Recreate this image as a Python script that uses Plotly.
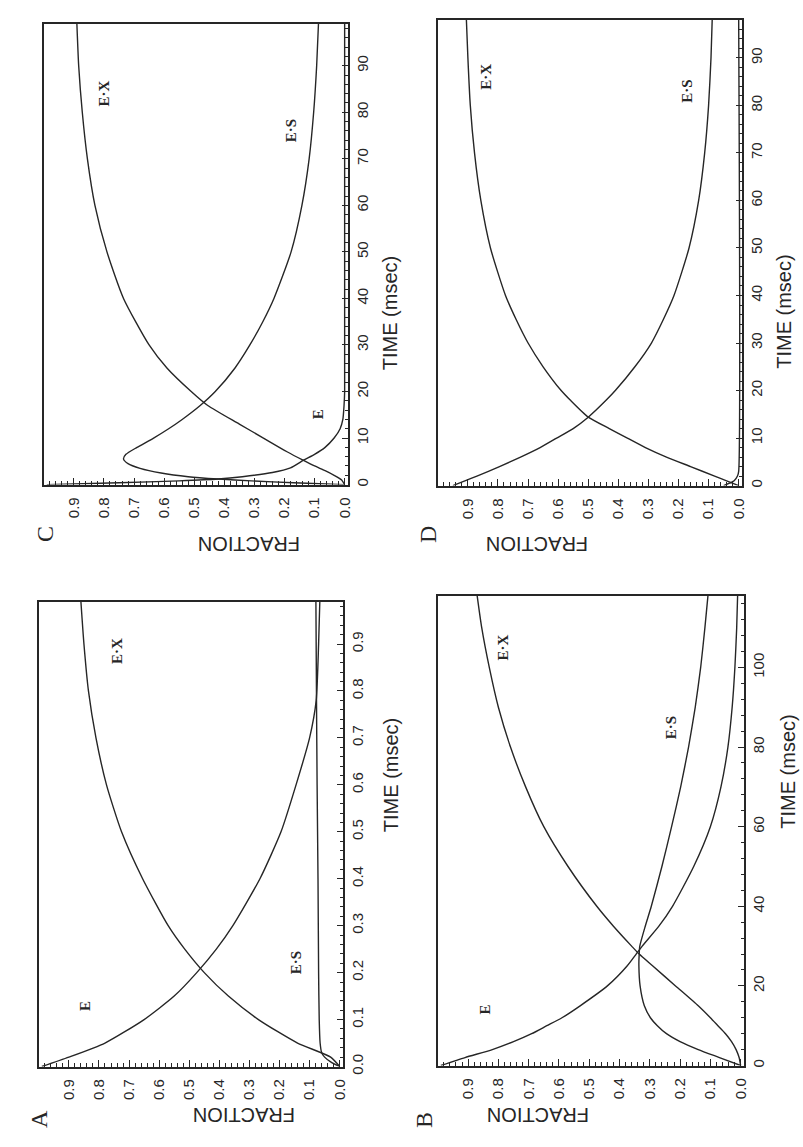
import plotly.graph_objects as go

W, H = 803, 1147

# ---- Panel A (time in msec, 0 - 1) ----
A_t_E = [0, 0.02, 0.05, 0.1, 0.15, 0.2, 0.25, 0.3, 0.4, 0.5, 0.6, 0.7, 0.78, 0.9, 0.99]
A_E = [0.99, 0.90, 0.78, 0.65, 0.55, 0.475, 0.41, 0.355, 0.265, 0.195, 0.145, 0.10, 0.078, 0.07, 0.066]
A_t_EX = [0, 0.02, 0.05, 0.1, 0.15, 0.2, 0.25, 0.3, 0.4, 0.5, 0.6, 0.7, 0.8, 0.9, 0.99]
A_EX = [0, 0.03, 0.14, 0.27, 0.37, 0.45, 0.515, 0.57, 0.655, 0.725, 0.775, 0.81, 0.835, 0.85, 0.86]
A_t_ES = [0, 0.01, 0.02, 0.03, 0.05, 0.1, 0.2, 0.4, 0.6, 0.78, 0.99]
A_ES = [0, 0.03, 0.05, 0.06, 0.065, 0.068, 0.07, 0.072, 0.075, 0.077, 0.079]

# ---- Panel B (time 0 - 118 msec) ----
B_t = [0, 2, 4, 6, 8, 10, 12, 15, 20, 25, 28, 30, 35, 40, 50, 60, 70, 80, 90, 100, 110, 118]
B_E = [0.99, 0.91, 0.82, 0.75, 0.69, 0.64, 0.59, 0.53, 0.44, 0.375, 0.345, 0.325, 0.27, 0.225,
       0.155, 0.10, 0.065, 0.042, 0.028, 0.019, 0.013, 0.01]
B_ES = [0, 0.07, 0.14, 0.2, 0.245, 0.275, 0.298, 0.318, 0.332, 0.336, 0.335, 0.333, 0.315, 0.295,
        0.26, 0.228, 0.198, 0.172, 0.15, 0.132, 0.118, 0.108]
B_EX = [0, 0.005, 0.015, 0.03, 0.05, 0.075, 0.1, 0.14, 0.215, 0.29, 0.335, 0.36, 0.42, 0.475,
        0.57, 0.65, 0.71, 0.76, 0.8, 0.83, 0.855, 0.87]

# ---- Panel C (time 0 - 99 msec) ----
C_t_E = [0, 0.4, 0.8, 1.2, 1.7, 2.6, 3.6, 5.3, 6.5, 8, 10, 12, 14, 17, 20, 99]
C_E = [0.99, 0.75, 0.55, 0.42, 0.34, 0.24, 0.18, 0.135, 0.1, 0.065, 0.035, 0.015, 0.006, 0.002, 0, 0]
C_t_ES = [0, 0.4, 0.8, 1.2, 1.7, 2.5, 3.5, 4.5, 5.5, 6.5, 8, 10, 12, 14, 17, 20, 25, 30, 35, 40,
          50, 60, 70, 80, 90, 99]
C_ES = [0, 0.17, 0.31, 0.42, 0.52, 0.61, 0.68, 0.72, 0.735, 0.727, 0.69, 0.635, 0.585, 0.54,
        0.48, 0.43, 0.365, 0.315, 0.272, 0.235, 0.178, 0.142, 0.118, 0.103, 0.093, 0.087]
C_t_EX = [0, 1, 2, 3, 4, 5.3, 7, 10, 13, 17, 20, 25, 30, 40, 50, 60, 70, 80, 90, 99]
C_EX = [0, 0.01, 0.035, 0.065, 0.1, 0.14, 0.19, 0.27, 0.35, 0.455, 0.51, 0.59, 0.65, 0.735, 0.79,
        0.83, 0.855, 0.872, 0.884, 0.89]

# ---- Panel D (time 0 - 98 msec) ----
D_t = [0, 1, 2, 4, 6, 8, 10, 12, 14.4, 18, 20, 25, 30, 35, 40, 50, 60, 70, 80, 90, 98]
D_ES = [0.95, 0.91, 0.87, 0.795, 0.725, 0.66, 0.605, 0.55, 0.5, 0.44, 0.41, 0.345, 0.29, 0.25,
        0.215, 0.165, 0.133, 0.113, 0.1, 0.092, 0.088]
D_EX = [0, 0.04, 0.08, 0.16, 0.24, 0.31, 0.37, 0.43, 0.5, 0.56, 0.59, 0.65, 0.7, 0.74, 0.775,
        0.825, 0.857, 0.878, 0.892, 0.9, 0.905]
D_t_E = [0, 0.5, 1, 2, 3, 98]
D_E = [0.05, 0.03, 0.015, 0.004, 0, 0]

FRACTION_TICKS = [0.0, 0.1, 0.2, 0.3, 0.4, 0.5, 0.6, 0.7, 0.8, 0.9]
FRACTION_LABELS = ["0.0", "0.1", "0.2", "0.3", "0.4", "0.5", "0.6", "0.7", "0.8", "0.9"]
TIME_TICKS_A = [0.0, 0.1, 0.2, 0.3, 0.4, 0.5, 0.6, 0.7, 0.8, 0.9]
TIME_LABELS_A = ["0.0", "0.1", "0.2", "0.3", "0.4", "0.5", "0.6", "0.7", "0.8", "0.9"]
TIME_TICKS_B = [0, 20, 40, 60, 80, 100]
TIME_TICKS_CD = [0, 10, 20, 30, 40, 50, 60, 70, 80, 90]

INK = "#262626"
SANS = "Liberation Sans, Arial, sans-serif"
SERIF = "Liberation Serif, Times New Roman, serif"

# panel boxes in page pixels: left, right, top, bottom
panels = {
    "C": dict(box=(44, 350, 24, 488), trange=[0, 99], tticks=TIME_TICKS_CD, tlabels=None, tminor=2,
              curves=[(C_t_E, C_E), (C_t_ES, C_ES), (C_t_EX, C_EX)],
              labels=[("E·X", 0.80, 84), ("E·S", 0.18, 76), ("E", 0.09, 15)],
              letter=(30, 538), frac_y=548, title_dx=42),
    "D": dict(box=(440, 746, 20, 489), trange=[0, 98], tticks=TIME_TICKS_CD, tlabels=None, tminor=2,
              curves=[(D_t_E, D_E), (D_t, D_ES), (D_t, D_EX)],
              labels=[("E·X", 0.84, 86), ("E·S", 0.17, 83)],
              letter=(430, 538), frac_y=548, title_dx=42),
    "A": dict(box=(39, 345, 606, 1074), trange=[0, 0.99], tticks=TIME_TICKS_A, tlabels=TIME_LABELS_A,
              tminor=0.02,
              curves=[(A_t_E, A_E), (A_t_ES, A_ES), (A_t_EX, A_EX)],
              labels=[("E·X", 0.74, 0.885), ("E·S", 0.145, 0.22), ("E", 0.845, 0.13)],
              letter=(24, 1138), frac_y=1136, title_dx=48),
    "B": dict(box=(440, 748, 600, 1073), trange=[0, 118], tticks=TIME_TICKS_B, tlabels=None, tminor=4,
              curves=[(B_t, B_E), (B_t, B_ES), (B_t, B_EX)],
              labels=[("E·X", 0.785, 105), ("E·S", 0.23, 85), ("E", 0.845, 14)],
              letter=(426, 1138), frac_y=1136, title_dx=44),
}

fig = go.Figure()
annotations = []

for i, (name, p) in enumerate(panels.items(), start=1):
    l, r, t, b = p["box"]
    xa = "x" if i == 1 else f"x{i}"
    ya = "y" if i == 1 else f"y{i}"
    for tt, ff in p["curves"]:
        fig.add_trace(go.Scatter(
            x=ff, y=tt, xaxis=xa, yaxis=ya, mode="lines",
            line=dict(color=INK, width=1.4, shape="spline", smoothing=0.6),
            showlegend=False, hoverinfo="skip"))

    xkey = "xaxis" if i == 1 else f"xaxis{i}"
    ykey = "yaxis" if i == 1 else f"yaxis{i}"
    fig.update_layout({
        xkey: dict(
            domain=[l / W, r / W], anchor=ya, range=[1.0, -0.012],
            tickvals=FRACTION_TICKS, ticktext=FRACTION_LABELS, tickangle=-90,
            ticks="inside", ticklen=7, tickwidth=1.2, tickcolor=INK, ticklabelstandoff=5,
            minor=dict(dtick=0.02, tick0=0, ticks="inside", ticklen=4, tickcolor=INK, tickwidth=1),
            showline=True, linecolor=INK, linewidth=1.5, mirror=True,
            showgrid=False, zeroline=False,
            tickfont=dict(family=SANS, size=15, color=INK), fixedrange=True),
        ykey: dict(
            domain=[1 - b / H, 1 - t / H], anchor=xa, side="right", range=p["trange"],
            tickvals=p["tticks"], ticktext=p["tlabels"] if p["tlabels"] else [str(v) for v in p["tticks"]],
            tickangle=-90, ticks="inside", ticklen=7, tickwidth=1.2, tickcolor=INK,
            minor=dict(dtick=p["tminor"], tick0=0, ticks="inside", ticklen=4, tickcolor=INK, tickwidth=1),
            showline=True, linecolor=INK, linewidth=1.5, mirror=True,
            showgrid=False, zeroline=False,
            tickfont=dict(family=SANS, size=15, color=INK), fixedrange=True),
    })

    # curve labels
    for txt, fx, ty in p["labels"]:
        annotations.append(dict(
            x=fx, y=ty, xref=xa, yref=ya, text=f"<b>{txt}</b>", showarrow=False, textangle=-90,
            font=dict(family=SERIF, size=15, color=INK)))

    # axis titles
    annotations.append(dict(
        x=(r + p["title_dx"]) / W, y=1 - (t + b) / 2 / H, xref="paper", yref="paper",
        text="TIME (msec)", showarrow=False, textangle=-90, xanchor="center",
        font=dict(family=SANS, size=20, color=INK)))
    annotations.append(dict(
        x=(l + r) / 2 / W, y=1 - p["frac_y"] / H, xref="paper", yref="paper", text="FRACTION",
        showarrow=False, textangle=180, font=dict(family=SANS, size=20, color=INK)))
    # panel letter
    lx, ly = p["letter"]
    annotations.append(dict(
        x=lx / W, y=1 - ly / H, xref="paper", yref="paper", text=name, showarrow=False,
        textangle=-90, font=dict(family=SERIF, size=24, color=INK)))

fig.update_layout(
    width=W, height=H, margin=dict(l=0, r=0, t=0, b=0),
    paper_bgcolor="white", plot_bgcolor="white",
    annotations=annotations, showlegend=False)

fig.write_html("out.html")
